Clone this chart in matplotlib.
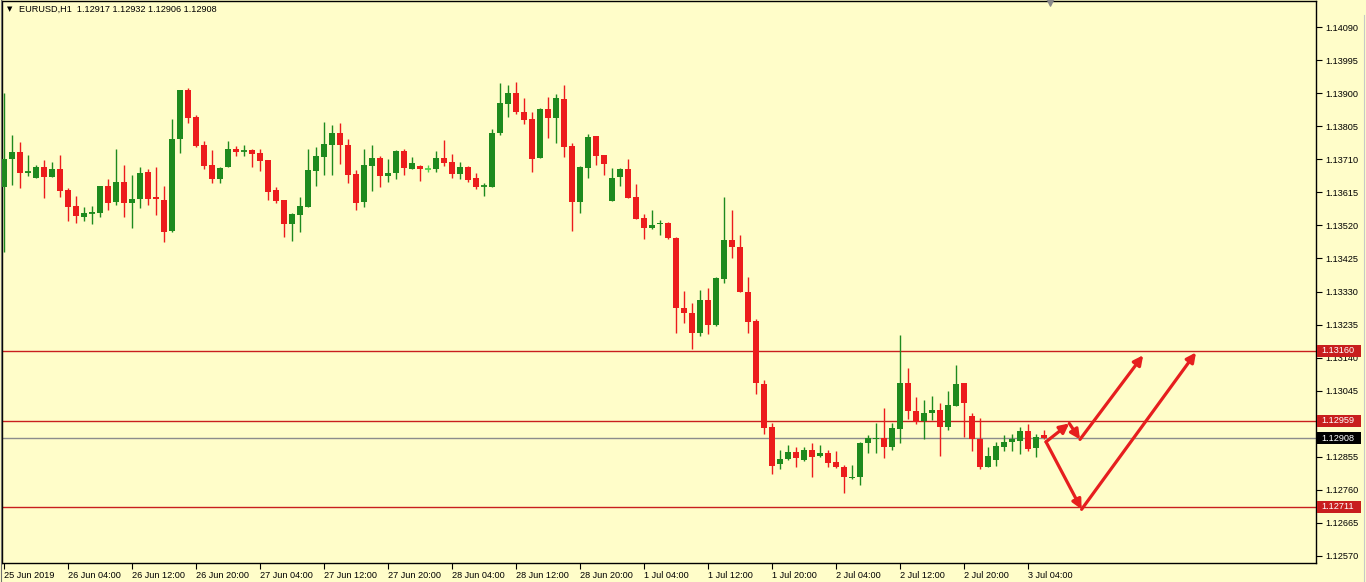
import matplotlib
matplotlib.use("Agg")
import matplotlib.pyplot as plt
import matplotlib.transforms as mtransforms
from matplotlib.patches import Rectangle
from matplotlib.lines import Line2D
import numpy as np

# EURUSD H1 candles, 25 Jun 20:00 .. 3 Jul 06:00
opens = [
    1.13630, 1.13710, 1.13732, 1.13672, 1.13655, 1.13687, 1.13658, 1.13682, 1.13622, 1.13576,
    1.13545, 1.13556, 1.13556, 1.13633, 1.13588, 1.13645, 1.13585, 1.13596, 1.13674, 1.13602,
    1.13593, 1.13504, 1.13767, 1.13909, 1.13832, 1.13751, 1.13693, 1.13653, 1.13689, 1.13741,
    1.13733, 1.13737, 1.13727, 1.13708, 1.13622, 1.13593, 1.13524, 1.13550, 1.13574, 1.13677,
    1.13717, 1.13751, 1.13786, 1.13751, 1.13668, 1.13588, 1.13691, 1.13713, 1.13662, 1.13671,
    1.13735, 1.13683, 1.13691, 1.13683, 1.13681, 1.13713, 1.13701, 1.13667, 1.13687, 1.13655,
    1.13632, 1.13631, 1.13785, 1.13868, 1.13901, 1.13847, 1.13825, 1.13714, 1.13854, 1.13829,
    1.13882, 1.13748, 1.13588, 1.13686, 1.13777, 1.13722, 1.13591, 1.13658, 1.13681, 1.13601,
    1.13541, 1.13513, 1.13523, 1.13527, 1.13485, 1.13282, 1.13267, 1.13212, 1.13306, 1.13234,
    1.13366, 1.13478, 1.13457, 1.13328, 1.13245, 1.13064, 1.12941, 1.12833, 1.12848, 1.12868,
    1.12846, 1.12874, 1.12857, 1.12865, 1.12841, 1.12827, 1.12793, 1.12796, 1.12894, 1.12905,
    1.12910, 1.12884, 1.12934, 1.13068, 1.12987, 1.12959, 1.12980, 1.12989, 1.12941, 1.13002,
    1.13066, 1.12972, 1.12905, 1.12826, 1.12846, 1.12884, 1.12897, 1.12901, 1.12929, 1.12881,
    1.12917,
]
highs = [
    1.13900, 1.13780, 1.13760, 1.13722, 1.13693, 1.13708, 1.13703, 1.13722, 1.13627, 1.13604,
    1.13574, 1.13576, 1.13633, 1.13652, 1.13741, 1.13693, 1.13665, 1.13687, 1.13681, 1.13687,
    1.13633, 1.13825, 1.13909, 1.13914, 1.13837, 1.13762, 1.13737, 1.13689, 1.13762, 1.13748,
    1.13751, 1.13741, 1.13741, 1.13708, 1.13631, 1.13593, 1.13556, 1.13601, 1.13739, 1.13744,
    1.13818, 1.13808, 1.13813, 1.13767, 1.13679, 1.13739, 1.13751, 1.13719, 1.13710, 1.13737,
    1.13739, 1.13716, 1.13693, 1.13693, 1.13734, 1.13765, 1.13725, 1.13701, 1.13691, 1.13670,
    1.13643, 1.13796, 1.13928, 1.13923, 1.13933, 1.13885, 1.13845, 1.13857, 1.13888, 1.13897,
    1.13925, 1.13758, 1.13691, 1.13782, 1.13777, 1.13722, 1.13684, 1.13684, 1.13710, 1.13638,
    1.13553, 1.13564, 1.13535, 1.13531, 1.13487, 1.13331, 1.13296, 1.13334, 1.13341, 1.13373,
    1.13601, 1.13564, 1.13492, 1.13373, 1.13250, 1.13076, 1.12951, 1.12874, 1.12889, 1.12884,
    1.12884, 1.12894, 1.12889, 1.12874, 1.12872, 1.12831, 1.12831, 1.12898, 1.12918, 1.12951,
    1.12994, 1.12951, 1.13205, 1.13109, 1.13026, 1.13018, 1.13030, 1.13009, 1.13044, 1.13119,
    1.13068, 1.12980, 1.12966, 1.12884, 1.12898, 1.12918, 1.12920, 1.12940, 1.12948, 1.12920,
    1.12932,
]
lows = [
    1.13443, 1.13636, 1.13627, 1.13662, 1.13655, 1.13598, 1.13658, 1.13602, 1.13533, 1.13528,
    1.13533, 1.13524, 1.13543, 1.13564, 1.13578, 1.13545, 1.13514, 1.13569, 1.13578, 1.13550,
    1.13473, 1.13502, 1.13727, 1.13815, 1.13746, 1.13681, 1.13643, 1.13643, 1.13689, 1.13720,
    1.13720, 1.13689, 1.13677, 1.13593, 1.13585, 1.13487, 1.13476, 1.13502, 1.13574, 1.13633,
    1.13665, 1.13665, 1.13696, 1.13643, 1.13564, 1.13572, 1.13620, 1.13629, 1.13645, 1.13652,
    1.13665, 1.13681, 1.13648, 1.13674, 1.13674, 1.13691, 1.13655, 1.13652, 1.13645, 1.13624,
    1.13604, 1.13631, 1.13780, 1.13832, 1.13840, 1.13811, 1.13674, 1.13714, 1.13772, 1.13758,
    1.13716, 1.13505, 1.13555, 1.13657, 1.13693, 1.13665, 1.13591, 1.13633, 1.13599, 1.13538,
    1.13480, 1.13509, 1.13492, 1.13480, 1.13212, 1.13239, 1.13164, 1.13202, 1.13207, 1.13232,
    1.13354, 1.13427, 1.13329, 1.13210, 1.13035, 1.12920, 1.12805, 1.12819, 1.12846, 1.12825,
    1.12844, 1.12796, 1.12855, 1.12826, 1.12822, 1.12750, 1.12790, 1.12774, 1.12867, 1.12867,
    1.12852, 1.12874, 1.12894, 1.12963, 1.12949, 1.12905, 1.12961, 1.12858, 1.12932, 1.13002,
    1.12913, 1.12873, 1.12819, 1.12825, 1.12829, 1.12873, 1.12873, 1.12863, 1.12872, 1.12855,
    1.12906,
]
closes = [
    1.13711, 1.13732, 1.13671, 1.13674, 1.13687, 1.13658, 1.13682, 1.13620, 1.13574, 1.13548,
    1.13555, 1.13558, 1.13633, 1.13585, 1.13645, 1.13585, 1.13595, 1.13671, 1.13596, 1.13595,
    1.13501, 1.13767, 1.13909, 1.13829, 1.13748, 1.13691, 1.13653, 1.13684, 1.13741, 1.13732,
    1.13735, 1.13725, 1.13706, 1.13617, 1.13590, 1.13524, 1.13553, 1.13576, 1.13679, 1.13719,
    1.13754, 1.13786, 1.13751, 1.13665, 1.13585, 1.13693, 1.13713, 1.13662, 1.13672, 1.13735,
    1.13686, 1.13698, 1.13681, 1.13683, 1.13713, 1.13700, 1.13668, 1.13687, 1.13650, 1.13629,
    1.13634, 1.13785, 1.13871, 1.13901, 1.13845, 1.13823, 1.13711, 1.13854, 1.13829, 1.13885,
    1.13746, 1.13588, 1.13687, 1.13775, 1.13720, 1.13696, 1.13655, 1.13681, 1.13599, 1.13538,
    1.13514, 1.13521, 1.13528, 1.13484, 1.13282, 1.13267, 1.13210, 1.13306, 1.13234, 1.13368,
    1.13478, 1.13459, 1.13329, 1.13243, 1.13066, 1.12939, 1.12829, 1.12848, 1.12868, 1.12851,
    1.12874, 1.12855, 1.12865, 1.12836, 1.12825, 1.12796, 1.12798, 1.12894, 1.12908, 1.12910,
    1.12884, 1.12937, 1.13068, 1.12987, 1.12956, 1.12980, 1.12989, 1.12940, 1.13004, 1.13064,
    1.13010, 1.12905, 1.12826, 1.12857, 1.12886, 1.12897, 1.12905, 1.12929, 1.12877, 1.12913,
    1.12908,
]

level_lines = [1.13160, 1.12959, 1.12711]
bid_price = 1.12908

price_ticks = [1.12570, 1.12665, 1.12760, 1.12855, 1.12950, 1.13045, 1.13140, 1.13235, 1.13330,
               1.13425, 1.13520, 1.13615, 1.13710, 1.13805, 1.13900, 1.13995, 1.14090]
time_ticks = [0, 8, 16, 24, 32, 40, 48, 56, 64, 72, 80, 88, 96, 104, 112, 120, 128]
time_labels = ["25 Jun 2019", "26 Jun 04:00", "26 Jun 12:00", "26 Jun 20:00", "27 Jun 04:00",
               "27 Jun 12:00", "27 Jun 20:00", "28 Jun 04:00", "28 Jun 12:00", "28 Jun 20:00",
               "1 Jul 04:00", "1 Jul 12:00", "1 Jul 20:00", "2 Jul 04:00", "2 Jul 12:00",
               "2 Jul 20:00", "3 Jul 04:00"]

# forecast arrows drawn on the chart: (bar index, price) vertices
arrow_paths = [
    [(130.25, 1.12898), (133.16, 1.12951), (134.5, 1.12905), (142.4, 1.13147)],
    [(130.25, 1.12898), (134.7, 1.12704), (149.0, 1.13155)],
]

BG = "#FFFDC9"
BULL = "#1E8A1E"
BEAR = "#EC1C1C"
DOJI = "#4CD14C"
LEVEL = "#C81E1E"
ARROW = "#E61E1E"

plt.rcParams["font.family"] = ["Liberation Sans", "DejaVu Sans"]

fig = plt.figure(figsize=(13.66, 5.82), dpi=100)
fig.patch.set_facecolor(BG)
ax = fig.add_axes([2 / 1366, 19 / 582, 1314 / 1366, 562 / 582])
ax.set_facecolor(BG)

o = np.array(opens)
h = np.array(highs)
l = np.array(lows)
c = np.array(closes)
x = np.arange(len(o))
colors = np.where(c > o, BULL, np.where(c < o, BEAR, DOJI))

ax.vlines(x, l, h, colors=colors, linewidth=1.0, zorder=3)
body_lo = np.minimum(o, c)
body_h = np.abs(c - o)
ax.bar(x, body_h, bottom=body_lo, width=0.68, color=colors, linewidth=0, zorder=3)
thin = body_h < 0.00004
ax.hlines((o[thin] + c[thin]) / 2, x[thin] - 0.34, x[thin] + 0.34,
          colors=colors[thin], linewidth=1.3, zorder=3)

# horizontal levels and bid line
for p in level_lines:
    ax.axhline(p, color=LEVEL, linewidth=1.0, zorder=2)
ax.axhline(bid_price, color="#8C8C8C", linewidth=1.0, zorder=2)

for path in arrow_paths:
    for (x0, y0), (x1, y1) in zip(path[:-1], path[1:]):
        ax.annotate("", xy=(x1, y1), xytext=(x0, y0),
                    arrowprops=dict(arrowstyle="-|>", color=ARROW, lw=2.3,
                                    mutation_scale=14, shrinkA=0, shrinkB=0),
                    zorder=4)

ax.set_xlim(-0.25, 164)
ax.set_ylim(1.125498, 1.14165)

for sp in ax.spines.values():
    sp.set_color("black")
    sp.set_linewidth(1.0)

ax.yaxis.tick_right()
ax.set_yticks(price_ticks)
ax.set_yticklabels([f"{p:.5f}" for p in price_ticks])
ax.tick_params(axis="y", direction="out", length=4, width=0.8, pad=3,
               labelsize=6.6, colors="black")

ax.set_xticks(time_ticks)
ax.set_xticklabels(time_labels)
ax.tick_params(axis="x", direction="out", length=4, width=0.8, pad=2,
               labelsize=6.6, colors="black")
for lab in ax.get_xticklabels():
    lab.set_horizontalalignment("left")

# price tags on the right scale
trans = mtransforms.blended_transform_factory(ax.transAxes, ax.transData)
tag_w = 44 / 1314
tag_h = 12 / 34800
tags = [(p, LEVEL) for p in level_lines] + [(bid_price, "black")]
for p, col in tags:
    ax.add_patch(Rectangle((1.0 + 1 / 1314, p - tag_h / 2), tag_w, tag_h, transform=trans,
                           facecolor=col, edgecolor="none", clip_on=False, zorder=10))
    ax.text(1.0 + 5 / 1314, p, f"{p:.5f}", transform=trans, ha="left", va="center",
            color="white", fontsize=6.6, clip_on=False, zorder=11)

# chart shift marker
ax.scatter([130.75], [1.14165], marker="v", s=45, color="#8A8A8A", clip_on=False, zorder=5)

# window edges
fig.add_artist(Line2D([0.6 / 1366, 0.6 / 1366], [0, 1], color="#707070", lw=0.8))
fig.add_artist(Line2D([1363.5 / 1366, 1363.5 / 1366], [0, 1 - 15 / 582],
                      color="#C8C8C8", lw=0.8))

fig.text(7 / 1366, 1 - 9 / 582, "\u25bc", fontsize=5, va="center", ha="left",
         family="DejaVu Sans")
fig.text(19 / 1366, 1 - 9 / 582, "EURUSD,H1  1.12917 1.12932 1.12906 1.12908",
         fontsize=6.6, va="center", ha="left")

fig.savefig("out.png", dpi=100, facecolor=BG)
